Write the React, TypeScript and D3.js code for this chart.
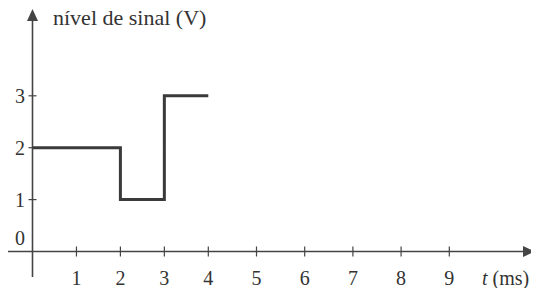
import * as d3 from "d3";

// signal values (V) held from each time point (ms)
const stepTimes = [0, 2, 3, 4];
const stepLevels = [2, 1, 3, 3];
const xTicks = [1, 2, 3, 4, 5, 6, 7, 8, 9];
const yTicks = [1, 2, 3];

const W = 539;
const H = 288;
const SERIF = "'Liberation Serif'";

const App = () => {
  // the source drawing is slightly stretched after t=4
  const x = d3.scaleLinear().domain([0, 4, 9]).range([32.5, 208.3, 449.3]);
  const y = d3.scaleLinear().domain([0, 3]).range([251.5, 95.8]);

  const pts: [number, number][] = stepTimes.map((t, i) => [t, stepLevels[i]]);
  const line = d3
    .line<[number, number]>()
    .x((d) => x(d[0]))
    .y((d) => y(d[1]))
    .curve(d3.curveStepAfter);

  const axisColor = "#444";
  const x0 = x(0);
  const y0 = y(0);
  const tf = { fontFamily: SERIF };

  return (
    <svg width={W} height={H} style={{ display: "block", margin: "-8px 0 0 -8px" }}>
      {/* y axis */}
      <line x1={x0} x2={x0} y1={277} y2={20} stroke={axisColor} strokeWidth={1.6} />
      <path d={`M${x0},9 L${x0 - 5.5},21 L${x0 + 5.5},21 Z`} fill={axisColor} />
      {/* x axis */}
      <line x1={6} x2={525} y1={y0} y2={y0} stroke={axisColor} strokeWidth={1.6} />
      <path d={`M535,${y0} L523,${y0 - 5.5} L523,${y0 + 5.5} Z`} fill={axisColor} />

      {xTicks.map((t) => (
        <g key={"x" + t}>
          <line x1={x(t)} x2={x(t)} y1={y0 - 5} y2={y0 + 5} stroke={axisColor} strokeWidth={1.2} />
          <text x={x(t)} y={285} fontSize={20} textAnchor="middle" style={tf} fill="#333">
            {t}
          </text>
        </g>
      ))}
      {yTicks.map((v) => (
        <g key={"y" + v}>
          <line x1={x0 - 4} x2={x0 + 4} y1={y(v)} y2={y(v)} stroke={axisColor} strokeWidth={1.2} />
          <text x={25} y={y(v) + 7} fontSize={20} textAnchor="end" style={tf} fill="#333">
            {v}
          </text>
        </g>
      ))}
      <text x={25} y={245} fontSize={20} textAnchor="end" style={tf} fill="#333">
        0
      </text>

      <path d={line(pts) ?? ""} fill="none" stroke="#3a3a3a" strokeWidth={3} />

      <text x={53} y={25} fontSize={22} style={tf} fill="#333">
        nível de sinal (V)
      </text>
      <text x={482} y={285} fontSize={20} style={tf} fill="#333">
        <tspan fontStyle="italic">t</tspan> (ms)
      </text>
    </svg>
  );
};

export default App;
